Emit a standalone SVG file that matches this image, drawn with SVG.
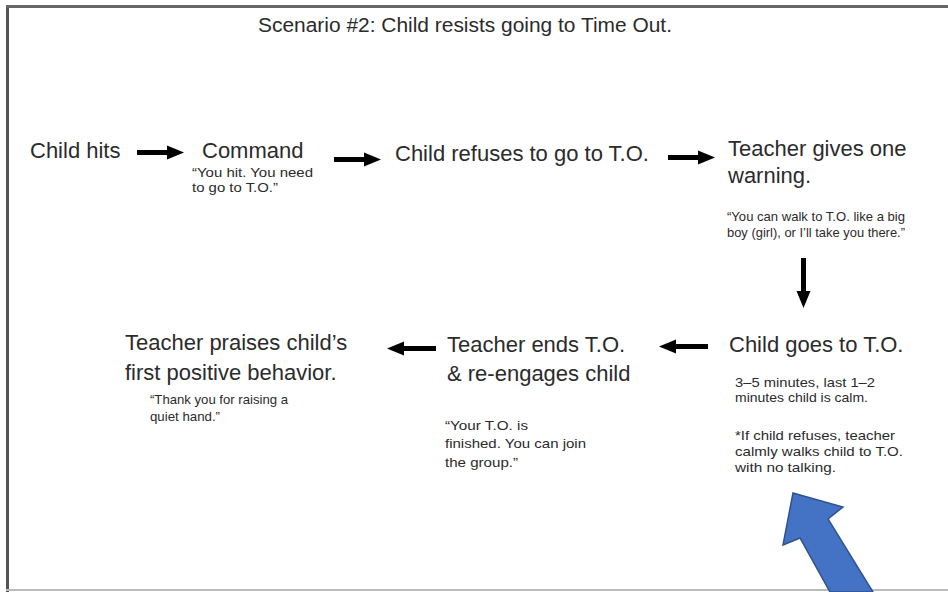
<svg xmlns="http://www.w3.org/2000/svg" width="948" height="592" viewBox="0 0 948 592">
<defs>
<style>
.t{font-family:"Liberation Sans",Arial,sans-serif;fill:#2b2b2b}
.m{font-size:22px}
.s{font-size:13px}
.r{font-size:13px}
.h{font-size:20px}
.c{stroke:#000;stroke-width:5;fill:none}
</style>
<marker id="ah" markerUnits="userSpaceOnUse" markerWidth="18" markerHeight="16" refX="0" refY="8" orient="auto" viewBox="0 0 18 16">
<path d="M0,1 L17,8 L0,15 Z" fill="#000"/>
</marker>
</defs>
<rect width="948" height="592" fill="#fff"/>
<g id="frame">
<line x1="7.5" y1="6" x2="7.5" y2="592" stroke="#555" stroke-width="3"/>
<line x1="6" y1="6.5" x2="948" y2="6.5" stroke="#666" stroke-width="3"/>
<line x1="6" y1="590" x2="948" y2="590" stroke="#bbb" stroke-width="2"/>
</g>
<text class="t h" x="258" y="32" textLength="414" lengthAdjust="spacingAndGlyphs">Scenario #2: Child resists going to Time Out.</text>
<g id="n1"><text class="t m" x="30" y="158">Child hits</text></g>
<g id="n2"><text class="t m" x="202" y="158">Command</text>
<text class="t s" x="192" y="177" textLength="121" lengthAdjust="spacingAndGlyphs">“You hit. You need</text>
<text class="t s" x="192" y="192" textLength="86" lengthAdjust="spacingAndGlyphs">to go to T.O.”</text></g>
<g id="n3"><text class="t m" x="395" y="161">Child refuses to go to T.O.</text></g>
<g id="n4"><text class="t m" x="728" y="156">Teacher gives one</text>
<text class="t m" x="728" y="183">warning.</text>
<text class="t r" x="727" y="221" textLength="178" lengthAdjust="spacingAndGlyphs">“You can walk to T.O. like a big</text>
<text class="t r" x="727" y="237" textLength="178" lengthAdjust="spacingAndGlyphs">boy (girl), or I’ll take you there.”</text></g>
<g id="n5"><text class="t m" x="729" y="352">Child goes to T.O.</text>
<text class="t s" x="735" y="387" textLength="140" lengthAdjust="spacingAndGlyphs">3–5 minutes, last 1–2</text>
<text class="t s" x="735" y="402" textLength="133" lengthAdjust="spacingAndGlyphs">minutes child is calm.</text>
<text class="t s" x="735" y="440" textLength="160" lengthAdjust="spacingAndGlyphs">*If child refuses, teacher</text>
<text class="t s" x="735" y="456" textLength="168" lengthAdjust="spacingAndGlyphs">calmly walks child to T.O.</text>
<text class="t s" x="735" y="472" textLength="101" lengthAdjust="spacingAndGlyphs">with no talking.</text></g>
<g id="n6"><text class="t m" x="447" y="352">Teacher ends T.O.</text>
<text class="t m" x="447" y="381">&amp; re-engages child</text>
<text class="t s" x="445" y="430" textLength="83" lengthAdjust="spacingAndGlyphs">“Your T.O. is</text>
<text class="t s" x="445" y="448" textLength="141" lengthAdjust="spacingAndGlyphs">finished. You can join</text>
<text class="t s" x="445" y="467" textLength="73" lengthAdjust="spacingAndGlyphs">the group.”</text></g>
<g id="n7"><text class="t m" x="125" y="350">Teacher praises child’s</text>
<text class="t m" x="125" y="380">first positive behavior.</text>
<text class="t r" x="150" y="404" textLength="138" lengthAdjust="spacingAndGlyphs">“Thank you for raising a</text>
<text class="t r" x="150" y="421" textLength="70" lengthAdjust="spacingAndGlyphs">quiet hand.”</text></g>
<g id="connectors">
<line class="c" x1="137" y1="152.5" x2="167" y2="152.5" marker-end="url(#ah)"/>
<line class="c" x1="334" y1="159.5" x2="364" y2="159.5" marker-end="url(#ah)"/>
<line class="c" x1="668" y1="157.5" x2="698" y2="157.5" marker-end="url(#ah)"/>
<line class="c" x1="803.5" y1="258" x2="803.5" y2="291" marker-end="url(#ah)"/>
<line class="c" x1="708" y1="346.5" x2="676" y2="346.5" marker-end="url(#ah)"/>
<line class="c" x1="436" y1="348.5" x2="404" y2="348.5" marker-end="url(#ah)"/>
</g>
<g id="blue-arrow">
<path d="M793,493 L843,507 L828,519 L873,592 L830,592 L800,538 L783,545 Z" fill="#4472C4" stroke="#2F528F" stroke-width="1.5"/>
</g>
</svg>
